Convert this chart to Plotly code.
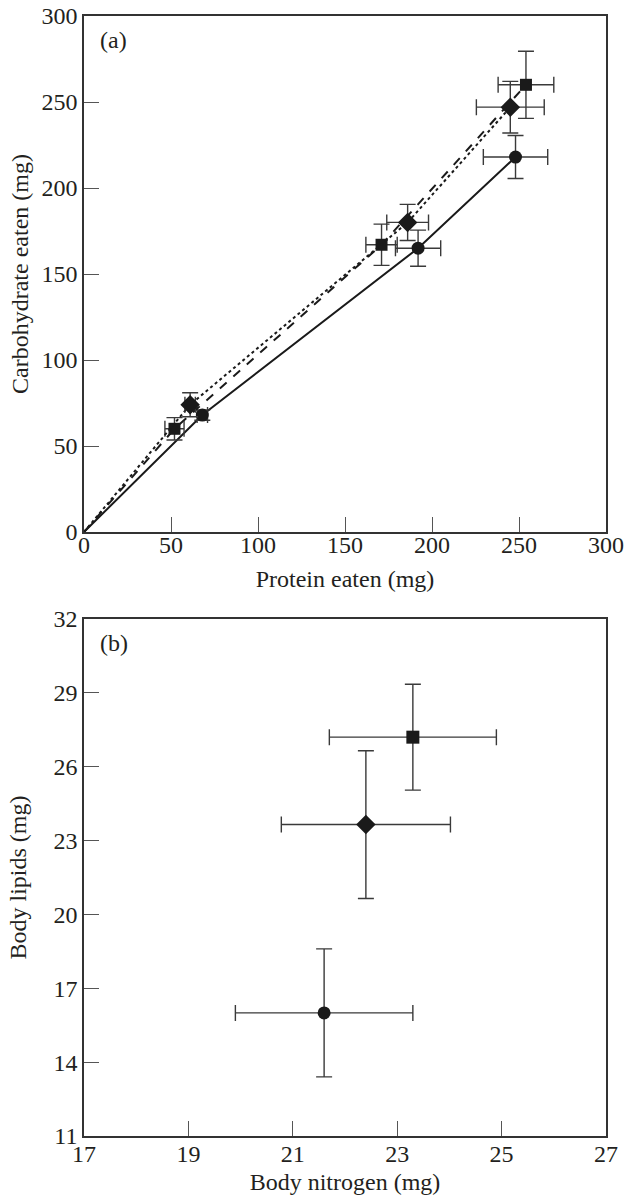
import plotly.graph_objects as go

# Panel (a): cumulative intake; first entry of each series is the origin
circ_protein = [0, 68, 192, 248]
circ_carb = [0, 68, 165, 218]
circ_protein_err = [0, 3, 13, 18.5]
circ_carb_err = [0, 3, 10.5, 12.5]

sq_protein = [0, 52, 171, 254]
sq_carb = [0, 60, 167, 260]
sq_protein_err = [0, 5.5, 9, 16]
sq_carb_err = [0, 6.5, 12, 19.5]

dia_protein = [0, 61, 186, 245]
dia_carb = [0, 74, 180, 247]
dia_protein_err = [0, 3, 12, 19.5]
dia_carb_err = [0, 7, 10.5, 15]

# Panel (b): body composition
b_nitrogen = [21.6, 22.4, 23.3]
b_lipids = [16.0, 23.65, 27.2]
b_nitrogen_err = [1.7, 1.62, 1.6]
b_lipids_err = [2.6, 3.0, 2.15]
b_symbols = ["circle", "diamond", "square"]

x_ticks_a = [0, 50, 100, 150, 200, 250, 300]
y_ticks_a = [0, 50, 100, 150, 200, 250, 300]
x_ticks_b = [17, 19, 21, 23, 25, 27]
y_ticks_b = [11, 14, 17, 20, 23, 26, 29, 32]

FONT = "Liberation Serif"
TXT = "#231f20"
ERRC = "#3a3a3a"
FS = 24

fig = go.Figure()


def add_series(xs, ys, xe, ye, symbol, dash, size):
    # connecting line from origin
    fig.add_trace(go.Scatter(x=xs, y=ys, mode="lines",
                             line=dict(color="#1a1a1a", width=2, dash=dash),
                             xaxis="x", yaxis="y", showlegend=False, hoverinfo="skip"))
    fig.add_trace(go.Scatter(x=xs[1:], y=ys[1:], mode="markers",
                             marker=dict(symbol=symbol, size=size, color="#1a1a1a"),
                             error_x=dict(type="data", array=xe[1:], color=ERRC, thickness=1.4, width=8),
                             error_y=dict(type="data", array=ye[1:], color=ERRC, thickness=1.4, width=8),
                             xaxis="x", yaxis="y", showlegend=False))


add_series(circ_protein, circ_carb, circ_protein_err, circ_carb_err, "circle", "solid", 13)
add_series(sq_protein, sq_carb, sq_protein_err, sq_carb_err, "square", "dash", 12)
add_series(dia_protein, dia_carb, dia_protein_err, dia_carb_err, "diamond", "dot", 15)

for i in range(len(b_nitrogen)):
    fig.add_trace(go.Scatter(x=[b_nitrogen[i]], y=[b_lipids[i]], mode="markers",
                             marker=dict(symbol=b_symbols[i], size=13 if b_symbols[i] != "diamond" else 15,
                                         color="#1a1a1a"),
                             error_x=dict(type="data", array=[b_nitrogen_err[i]], color=ERRC, thickness=1.4, width=8),
                             error_y=dict(type="data", array=[b_lipids_err[i]], color=ERRC, thickness=1.4, width=8),
                             xaxis="x2", yaxis="y2", showlegend=False))

H_PLOT = 1195 - 16 - 59
dom_b = [0, 517 / H_PLOT]
dom_a = [1 - 516 / H_PLOT, 1]

axis_common = dict(showgrid=False, zeroline=False, showline=True, linecolor="#333333", linewidth=1.5,
                   mirror=True, ticks="inside", ticklen=15, tickwidth=1.4, tickcolor="#555555",
                   automargin=False,
                   tickfont=dict(family=FONT, size=FS, color=TXT),
                   title_font=dict(family=FONT, size=FS, color=TXT))

fig.update_layout(
    width=630, height=1195,
    margin=dict(l=84, r=24, t=16, b=59),
    paper_bgcolor="white", plot_bgcolor="white",
    font=dict(family=FONT, color=TXT),
    xaxis=dict(domain=[0, 1], anchor="y", range=[0, 300], tickvals=x_ticks_a, ticklabelstandoff=-10,
               title=dict(text="Protein eaten (mg)", standoff=14), **axis_common),
    yaxis=dict(domain=dom_a, anchor="x", range=[0, 300], tickvals=y_ticks_a,
               title=dict(text="Carbohydrate eaten (mg)", standoff=6), **axis_common),
    xaxis2=dict(domain=[0, 1], anchor="y2", range=[17, 27], tickvals=x_ticks_b, ticklabelstandoff=-5,
                title=dict(text="Body nitrogen (mg)", standoff=9), **axis_common),
    yaxis2=dict(domain=dom_b, anchor="x2", range=[11, 32], tickvals=y_ticks_b,
                title=dict(text="Body lipids (mg)", standoff=20), **axis_common),
    annotations=[
        dict(text="(a)", xref="x domain", yref="y domain", x=0.027, y=0.953, xanchor="left",
             yanchor="middle", showarrow=False, font=dict(family=FONT, size=FS, color=TXT)),
        dict(text="(b)", xref="x2 domain", yref="y2 domain", x=0.027, y=0.953, xanchor="left",
             yanchor="middle", showarrow=False, font=dict(family=FONT, size=FS, color=TXT)),
    ],
)

fig.write_html("out.html", config={"displayModeBar": False},
               post_script="document.body.style.margin='0';document.body.style.overflow='hidden';")
